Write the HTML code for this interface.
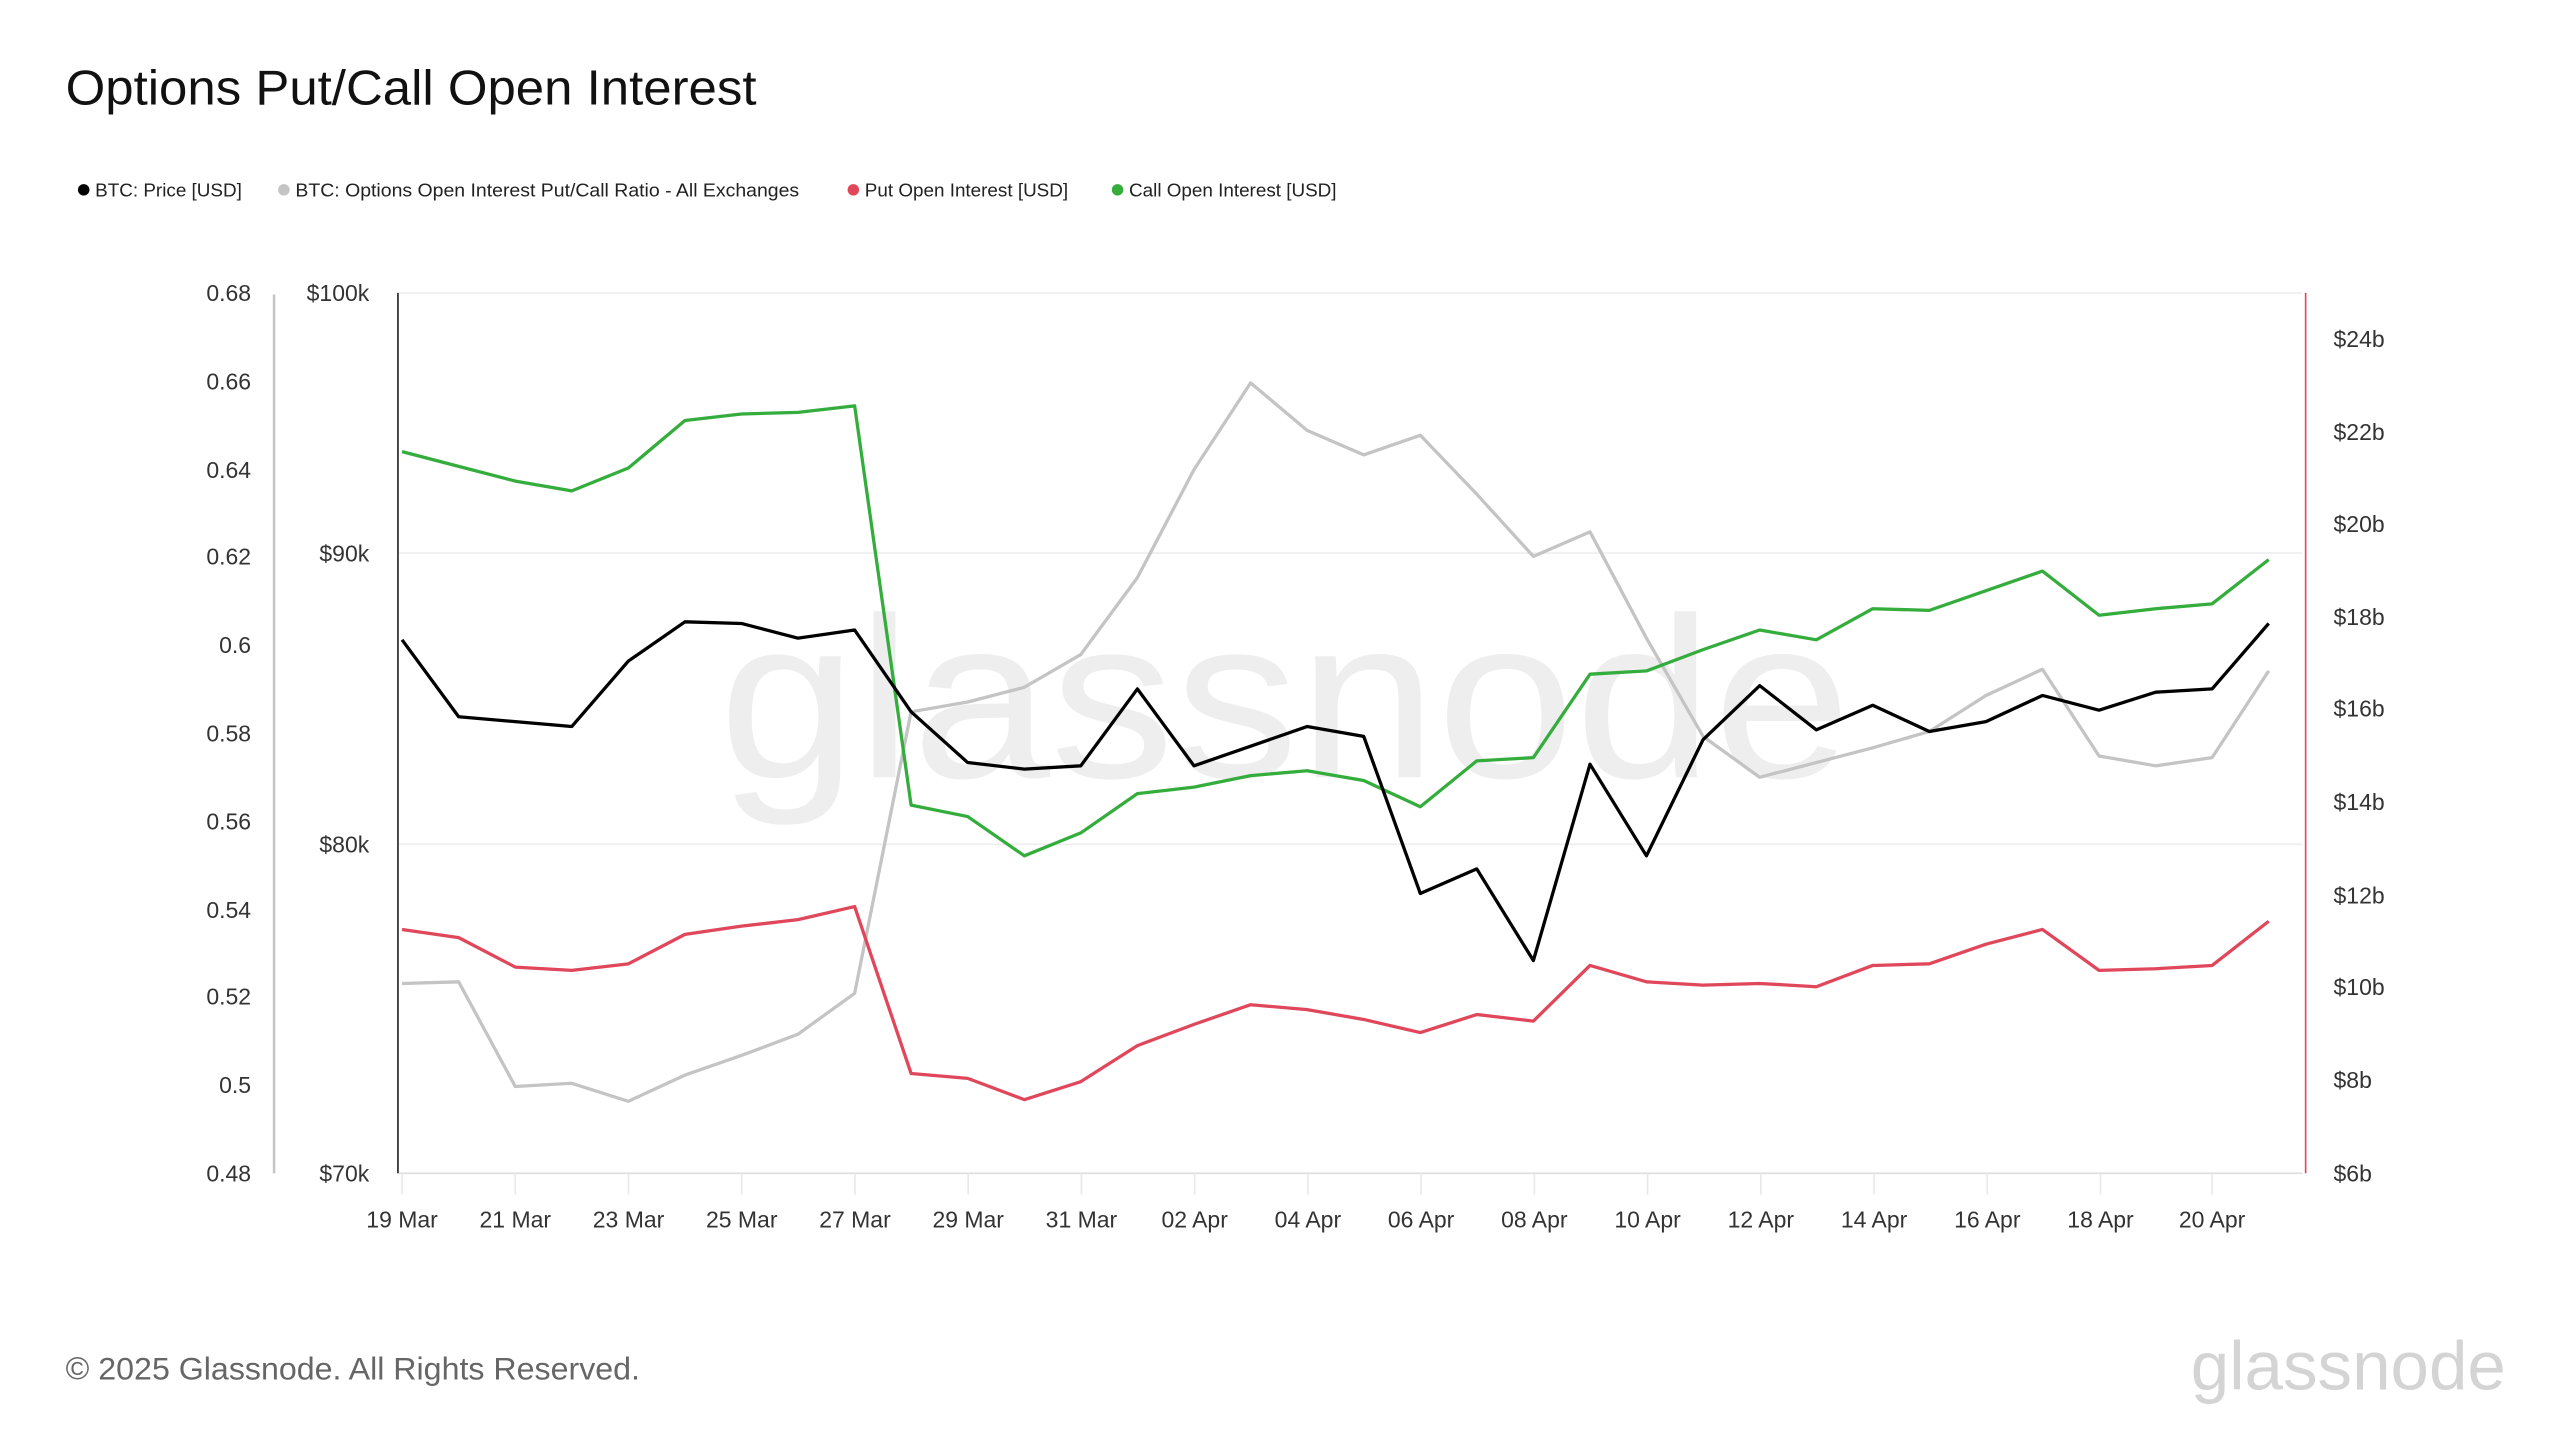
<!DOCTYPE html>
<html><head><meta charset="utf-8"><style>
html,body{margin:0;padding:0;background:#fff;}
svg{display:block;}
text{font-family:"Liberation Sans",sans-serif;}
</style></head><body>
<svg width="2560" height="1440" viewBox="0 0 1560 880" preserveAspectRatio="none" xmlns="http://www.w3.org/2000/svg">
<rect width="1560" height="880" fill="#fff"/>
<text x="40" y="64" font-size="30" fill="#111" textLength="421" lengthAdjust="spacingAndGlyphs">Options Put/Call Open Interest</text>
<g font-size="11.5" fill="#222">
<circle cx="51" cy="116" r="3.5" fill="#000"/><text x="58" y="120">BTC: Price [USD]</text>
<circle cx="173" cy="116" r="3.5" fill="#c4c4c4"/><text x="180" y="120" textLength="307" lengthAdjust="spacingAndGlyphs">BTC: Options Open Interest Put/Call Ratio - All Exchanges</text>
<circle cx="520" cy="116" r="3.5" fill="#e0475b"/><text x="527" y="120">Put Open Interest [USD]</text>
<circle cx="681" cy="116" r="3.5" fill="#34ad3d"/><text x="688" y="120">Call Open Interest [USD]</text>
</g>
<text x="783" y="475" font-size="140" fill="#eeeeee" text-anchor="middle" textLength="690" lengthAdjust="spacingAndGlyphs">glassnode</text>
<g stroke="#eee" stroke-width="1">
<line x1="243" y1="179" x2="1403" y2="179"/><line x1="243" y1="338" x2="1403" y2="338"/><line x1="243" y1="516" x2="1403" y2="516"/>
</g>
<line x1="243" y1="717" x2="1403" y2="717" stroke="#ddd" stroke-width="1"/>
<g stroke="#e8e8e8" stroke-width="1">
<line x1="245" y1="717" x2="245" y2="730"/><line x1="314" y1="717" x2="314" y2="730"/><line x1="383" y1="717" x2="383" y2="730"/><line x1="452" y1="717" x2="452" y2="730"/><line x1="521" y1="717" x2="521" y2="730"/><line x1="590" y1="717" x2="590" y2="730"/><line x1="659" y1="717" x2="659" y2="730"/><line x1="728" y1="717" x2="728" y2="730"/><line x1="797" y1="717" x2="797" y2="730"/><line x1="866" y1="717" x2="866" y2="730"/><line x1="935" y1="717" x2="935" y2="730"/><line x1="1004" y1="717" x2="1004" y2="730"/><line x1="1073" y1="717" x2="1073" y2="730"/><line x1="1142" y1="717" x2="1142" y2="730"/><line x1="1211" y1="717" x2="1211" y2="730"/><line x1="1280" y1="717" x2="1280" y2="730"/><line x1="1348" y1="717" x2="1348" y2="730"/>
</g>
<line x1="167" y1="180" x2="167" y2="717" stroke="#c4c4c4" stroke-width="1.5"/>
<line x1="242.5" y1="179" x2="242.5" y2="717" stroke="#222" stroke-width="1"/>
<line x1="1405" y1="179" x2="1405" y2="717" stroke="#e0475b" stroke-width="1"/>
<g font-size="14" fill="#333" text-anchor="end">
<text x="153" y="184">0.68</text><text x="153" y="238">0.66</text><text x="153" y="292">0.64</text><text x="153" y="345">0.62</text><text x="153" y="399">0.6</text><text x="153" y="453">0.58</text><text x="153" y="507">0.56</text><text x="153" y="561">0.54</text><text x="153" y="614">0.52</text><text x="153" y="668">0.5</text><text x="153" y="722">0.48</text>
<text x="225" y="184">$100k</text><text x="225" y="343">$90k</text><text x="225" y="521">$80k</text><text x="225" y="722">$70k</text>
</g>
<g font-size="14" fill="#333">
<text x="1422" y="212">$24b</text><text x="1422" y="269">$22b</text><text x="1422" y="325">$20b</text><text x="1422" y="382">$18b</text><text x="1422" y="438">$16b</text><text x="1422" y="495">$14b</text><text x="1422" y="552">$12b</text><text x="1422" y="608">$10b</text><text x="1422" y="665">$8b</text><text x="1422" y="722">$6b</text>
</g>
<g font-size="14" fill="#333" text-anchor="middle">
<text x="245" y="750">19 Mar</text><text x="314" y="750">21 Mar</text><text x="383" y="750">23 Mar</text><text x="452" y="750">25 Mar</text><text x="521" y="750">27 Mar</text><text x="590" y="750">29 Mar</text><text x="659" y="750">31 Mar</text><text x="728" y="750">02 Apr</text><text x="797" y="750">04 Apr</text><text x="866" y="750">06 Apr</text><text x="935" y="750">08 Apr</text><text x="1004" y="750">10 Apr</text><text x="1073" y="750">12 Apr</text><text x="1142" y="750">14 Apr</text><text x="1211" y="750">16 Apr</text><text x="1280" y="750">18 Apr</text><text x="1348" y="750">20 Apr</text>
</g>
<g fill="none" stroke-width="2" stroke-linejoin="round">
<polyline stroke="#c4c4c4" points="245,601 279.5,600 314,664 348.4,662 382.9,673 417.4,657 451.8,645 486.3,632 520.8,607 555.2,435 589.7,429 624.2,420 658.6,400 693.1,353 727.6,287 762.1,234 796.5,263 831,278 865.5,266 899.9,302 934.4,340 968.9,325 1003.3,390 1037.8,450 1072.3,475 1106.8,466 1141.2,457 1175.7,447 1210.2,425 1244.6,409 1279.1,462 1313.6,468 1348,463 1382.5,410"/>
<polyline stroke="#e0475b" points="245,568 279.5,573 314,591 348.4,593 382.9,589 417.4,571 451.8,566 486.3,562 520.8,554 555.2,656 589.7,659 624.2,672 658.6,661 693.1,639 727.6,626 762.1,614 796.5,617 831,623 865.5,631 899.9,620 934.4,624 968.9,590 1003.3,600 1037.8,602 1072.3,601 1106.8,603 1141.2,590 1175.7,589 1210.2,577 1244.6,568 1279.1,593 1313.6,592 1348,590 1382.5,563"/>
<polyline stroke="#34ad3d" points="245,276 279.5,285 314,294 348.4,300 382.9,286 417.4,257 451.8,253 486.3,252 520.8,248 555.2,492 589.7,499 624.2,523 658.6,509 693.1,485 727.6,481 762.1,474 796.5,471 831,477 865.5,493 899.9,465 934.4,463 968.9,412 1003.3,410 1037.8,397 1072.3,385 1106.8,391 1141.2,372 1175.7,373 1210.2,361 1244.6,349 1279.1,376 1313.6,372 1348,369 1382.5,342"/>
<polyline stroke="#000" points="245,391 279.5,438 314,441 348.4,444 382.9,404 417.4,380 451.8,381 486.3,390 520.8,385 555.2,435 589.7,466 624.2,470 658.6,468 693.1,421 727.6,468 762.1,456 796.5,444 831,450 865.5,546 899.9,531 934.4,587 968.9,467 1003.3,523 1037.8,452 1072.3,419 1106.8,446 1141.2,431 1175.7,447 1210.2,441 1244.6,425 1279.1,434 1313.6,423 1348,421 1382.5,381"/>
</g>
<text x="40" y="843" font-size="19" fill="#666" textLength="350" lengthAdjust="spacingAndGlyphs">© 2025 Glassnode. All Rights Reserved.</text>
<text x="1335" y="849" font-size="42" fill="#d4d4d4" textLength="192" lengthAdjust="spacingAndGlyphs">glassnode</text>
</svg>
</body></html>
